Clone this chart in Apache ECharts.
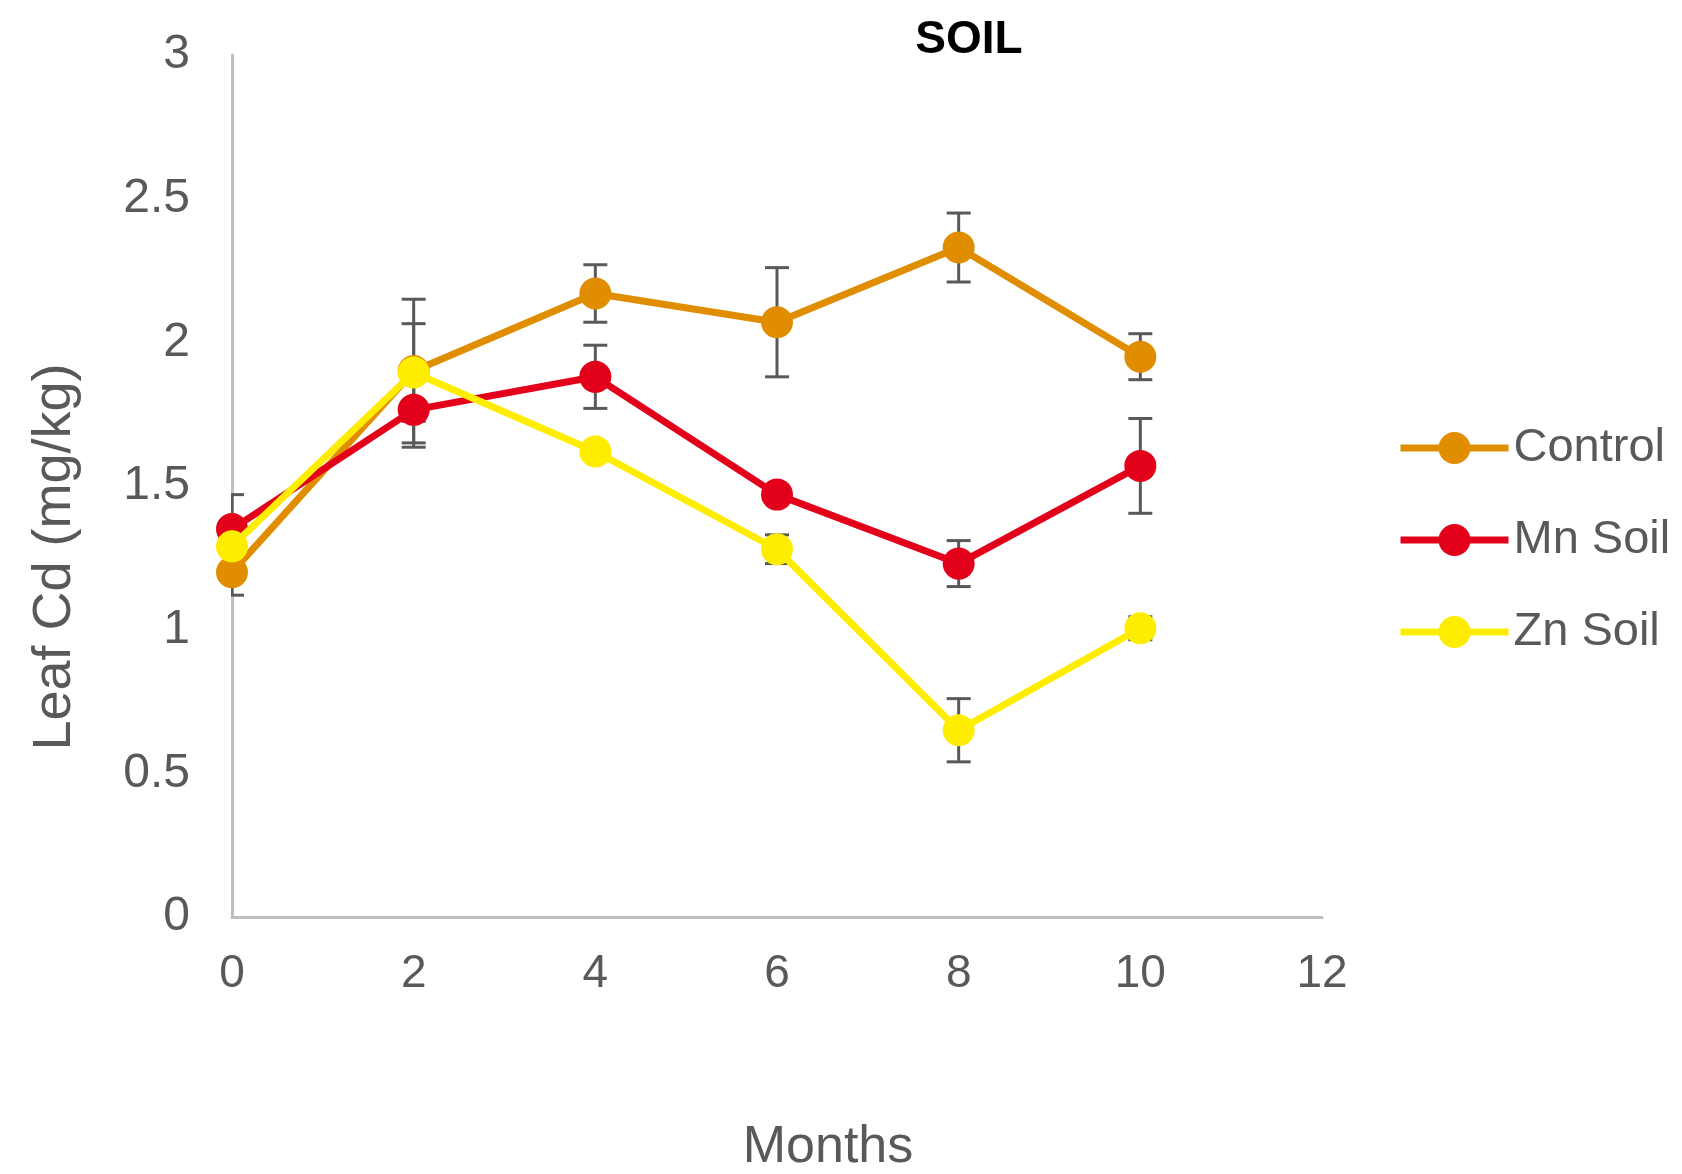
<!DOCTYPE html>
<html>
<head>
<meta charset="utf-8">
<style>
html,body{margin:0;padding:0;background:#fff;}
#chart{width:1682px;height:1174px;}
</style>
<script src="https://cdn.jsdelivr.net/npm/echarts@6/dist/echarts.min.js"></script>
</head>
<body>
<div id="chart"></div>
<script>
const months = [0, 2, 4, 6, 8, 10];
const xTicks = [0, 2, 4, 6, 8, 10, 12];
const yTicks = ['0', '0.5', '1', '1.5', '2', '2.5', '3'];
const seriesNames = ['Control', 'Mn Soil', 'Zn Soil'];
const controlVals = [1.20, 1.90, 2.17, 2.07, 2.33, 1.95];
const controlErr  = [0.08, 0.25, 0.10, 0.19, 0.12, 0.08];
const mnVals = [1.35, 1.765, 1.88, 1.47, 1.23, 1.57];
const mnErr  = [0.12, 0.13, 0.11, 0.03, 0.08, 0.165];
const znVals = [1.29, 1.895, 1.62, 1.28, 0.65, 1.005];
const znErr  = [0.04, 0.17, 0.03, 0.05, 0.11, 0.04];
const colors = ['#E08E00', '#E2001A', '#FFED00'];

const FONT = '"Liberation Sans", Arial, sans-serif';
const GRAY = '#595959';

const valsAll = [controlVals, mnVals, znVals];
const errAll = [controlErr, mnErr, znErr];

function errData(vals, errs) {
  return months.map((m, i) => [m, vals[i] - errs[i], vals[i] + errs[i]]);
}

function errRender(params, api) {
  const x = api.value(0);
  const lo = api.coord([x, api.value(1)]);
  const hi = api.coord([x, api.value(2)]);
  const cs = params.coordSys;
  const w = 12;
  const st = { stroke: GRAY, lineWidth: 3 };
  return {
    type: 'group',
    clipPath: { type: 'rect', shape: { x: cs.x - 1, y: cs.y - 50, width: cs.width + 2, height: cs.height + 100 } },
    children: [
      { type: 'line', shape: { x1: lo[0], y1: lo[1], x2: hi[0], y2: hi[1] }, style: st },
      { type: 'line', shape: { x1: lo[0] - w, y1: lo[1], x2: lo[0] + w, y2: lo[1] }, style: st },
      { type: 'line', shape: { x1: hi[0] - w, y1: hi[1], x2: hi[0] + w, y2: hi[1] }, style: st }
    ]
  };
}

const series = [];
valsAll.forEach((vals, k) => {
  series.push({
    type: 'custom',
    name: seriesNames[k] + ' err',
    renderItem: errRender,
    data: errData(vals, errAll[k]),
    clip: false,
    z: 1,
    silent: true
  });
});
valsAll.forEach((vals, k) => {
  series.push({
    type: 'line',
    name: seriesNames[k],
    data: months.map((m, i) => [m, vals[i]]),
    symbol: 'circle',
    symbolSize: 32,
    lineStyle: { color: colors[k], width: 7 },
    itemStyle: { color: colors[k] },
    z: 2 + k,
    clip: false,
    animation: false
  });
});

const chart = echarts.init(document.getElementById('chart'), null, { renderer: 'canvas' });
chart.setOption({
  animation: false,
  backgroundColor: '#fff',
  title: {
    text: 'SOIL',
    left: 964,
    top: 12,
    textAlign: 'center',
    textStyle: { fontFamily: FONT, fontSize: 46, fontWeight: 'bold', color: '#000' }
  },
  legend: {
    orient: 'vertical',
    left: 1392,
    top: 418,
    itemWidth: 108,
    itemHeight: 40,
    itemGap: 42,
    data: seriesNames,
    lineStyle: { width: 7 },
    textStyle: { fontFamily: FONT, fontSize: 47, color: GRAY, lineHeight: 50 }
  },
  grid: { left: 232, right: 360, top: 55, bottom: 257, containLabel: false, outerBoundsMode: 'none' },
  xAxis: {
    type: 'value',
    min: 0, max: 12, interval: 2,
    name: 'Months',
    nameLocation: 'middle',
    nameGap: 205,
    nameTextStyle: { fontFamily: FONT, fontSize: 52, color: GRAY, padding: [0, 0, 0, 102] },
    axisLine: { lineStyle: { color: '#BFBFBF', width: 3 } },
    axisTick: { show: false },
    splitLine: { show: false },
    axisLabel: {
      fontFamily: FONT, fontSize: 46, color: GRAY, margin: 34,
      formatter: v => (xTicks.indexOf(v) >= 0 ? String(v) : '')
    }
  },
  yAxis: {
    type: 'value',
    min: 0, max: 3, interval: 0.5,
    name: 'Leaf Cd (mg/kg)',
    nameLocation: 'middle',
    nameGap: 150,
    nameRotate: 90,
    nameTextStyle: { fontFamily: FONT, fontSize: 54, color: GRAY, padding: [0, 142, 0, 0] },
    axisLine: { show: true, lineStyle: { color: '#BFBFBF', width: 3 } },
    axisTick: { show: false },
    splitLine: { show: false },
    axisLabel: {
      fontFamily: FONT, fontSize: 48, color: GRAY, margin: 42,
      formatter: v => yTicks[Math.round(v / 0.5)]
    }
  },
  series: series
});
</script>
</body>
</html>
